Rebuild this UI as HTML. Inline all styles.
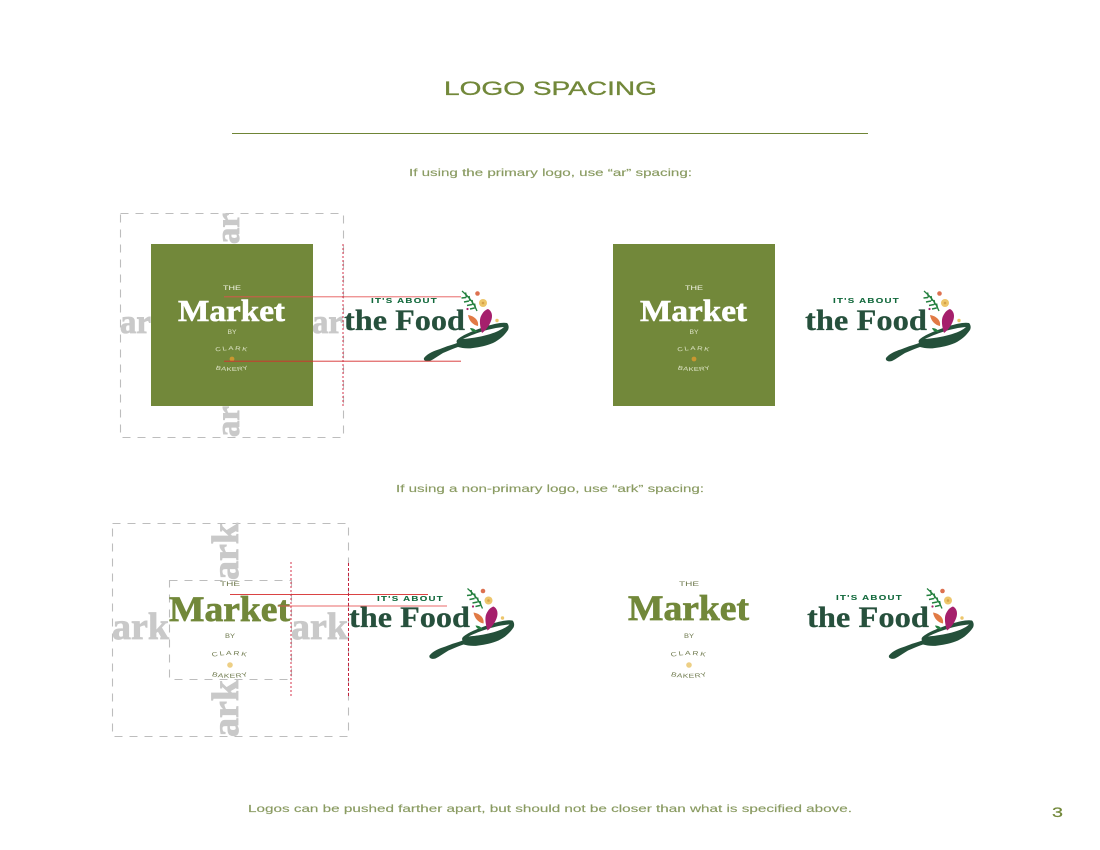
<!DOCTYPE html>
<html><head><meta charset="utf-8"><style>
html,body{margin:0;padding:0;background:#fff;width:1100px;height:850px;overflow:hidden}
svg{display:block}
text{font-family:"Liberation Sans",sans-serif}
.s{font-family:"Liberation Serif",serif;font-weight:700}
.g{fill:#72883a}
.t{fill:#8a9b62;stroke:#8a9b62;stroke-width:.15}
.gh{font-family:"Liberation Serif",serif;font-weight:700;fill:#c9c9c9;stroke:#c9c9c9;stroke-width:.8}
.d{fill:none;stroke:#bdbdbd;stroke-width:1.100;stroke-dasharray:8 7}
.sm{font-size:5.500px;text-anchor:middle}
.sm2{font-size:6px;text-anchor:middle}
.mw{fill:#fff;stroke:#fff;stroke-width:.6}
.mg{fill:#72883a;stroke:#72883a;stroke-width:.7}
.f{fill:#26503c;stroke:#26503c;stroke-width:.25}
.i{font-size:7.500px;font-weight:700;fill:#12693c;stroke:#12693c;stroke-width:.1;letter-spacing:1px}
</style></head><body>
<svg width="1100" height="850" viewBox="0 0 1100 850" xmlns="http://www.w3.org/2000/svg">
<defs>
<path id="a1" d="M-20 354.700Q0 345.300 20 354.700"/>
<path id="a2" d="M-20 366.300Q0 375.700 20 366.300"/>
<path id="a3" d="M-20 659.700Q0 650.300 20 659.700"/>
<path id="a4" d="M-20 673.300Q0 682.700 20 673.300"/>
<g id="pan">
<path d="M424 358C428 353 434 351 440 349C447 346 452 345 457 343C456 341 457 340 458 339C464 334 478 329 487 326C494 324 502 322 507 323C509 325 509 328 508 330C504 336 499 340 493 343C486 346 480 347 473 348C467 349 462 348 458 347C452 349 448 351 443 353C438 356 434 359 430 361C427 362 423 361 424 358Z" fill="#24503a"/>
<path d="M463 339C473 334 490 328 504 327C499 332 485 337 463 339Z" fill="#fff"/>
<path d="M462 291C468 296 474 303 477 311" stroke="#24803f" stroke-width="1.300" fill="none"/>
<path d="M466 297.500l-4.500 .5M469 301l-5 1M472 304.500l-5 1M474.500 308l-4.500 1M465.500 292.500l1 5M469 296l1 5M472 300l1 5M474.500 303.500l1 5" stroke="#24803f" stroke-width="1.500" fill="none"/>
<circle cx="477.500" cy="293.500" r="2.300" fill="#dd7150"/>
<circle cx="483" cy="303" r="4" fill="#edc66b"/>
<circle cx="483" cy="303" r="1.300" fill="#d6a24a"/>
<path d="M488 309C492 311 493 316 491 321C489 326 486 330 482 333C480 327 479 320 481 316C483 312 485 310 488 309Z" fill="#a51f6c"/>
<path d="M468 315C474 316 479 320 478 326C473 325 469 321 468 315Z" fill="#e17a45"/>
<circle cx="467.500" cy="309" r="1.100" fill="#a51f6c"/>
<path d="M470 328C474 328 476 330 477 332C473 332 471 331 470 328Z" fill="#24803f"/>
<circle cx="497" cy="320.500" r="1.700" fill="#edc66b"/>
</g>
</defs>

<text x="444" y="95" font-size="19.500" class="g" stroke="#72883a" stroke-width=".3" textLength="213" lengthAdjust="spacingAndGlyphs">LOGO SPACING</text>
<rect x="232" y="133" width="636" height="1" fill="#6f8536"/>
<text x="409" y="176" font-size="10.500" class="t" textLength="283" lengthAdjust="spacingAndGlyphs">If using the primary logo, use “ar” spacing:</text>
<text x="396" y="492" font-size="10.500" class="t" textLength="308" lengthAdjust="spacingAndGlyphs">If using a non-primary logo, use “ark” spacing:</text>
<text x="248" y="812" font-size="10.500" class="t" textLength="604" lengthAdjust="spacingAndGlyphs">Logos can be pushed farther apart, but should not be closer than what is specified above.</text>
<text x="1052" y="817" font-size="13.500" class="g" stroke="#72883a" stroke-width=".2" textLength="11" lengthAdjust="spacingAndGlyphs">3</text>

<!-- row 1 left -->
<rect x="120.500" y="213.500" width="223" height="224" class="d"/>
<text class="gh" x="120" y="333" font-size="34" textLength="31" lengthAdjust="spacingAndGlyphs">ar</text>
<text class="gh" x="312" y="333" font-size="34" textLength="31" lengthAdjust="spacingAndGlyphs">ar</text>
<text class="gh" transform="translate(239 244) rotate(-90)" font-size="34" textLength="31" lengthAdjust="spacingAndGlyphs">ar</text>
<text class="gh" transform="translate(239 437) rotate(-90)" font-size="34" textLength="31" lengthAdjust="spacingAndGlyphs">ar</text>
<rect x="151" y="244" width="162" height="162" fill="#72883a"/>
<g transform="translate(232 0)" fill="#fff">
<text class="sm2" x="0" y="290" textLength="18" lengthAdjust="spacingAndGlyphs" fill="#f2f4e6">THE</text>
<text class="s mw" x="-54" y="321" font-size="31" textLength="107" lengthAdjust="spacingAndGlyphs">Market</text>
<text class="sm2" x="0" y="334" textLength="9" lengthAdjust="spacingAndGlyphs" fill="#dfe5c8">BY</text>
<g transform="scale(1.400 1)" fill="#dfe5c8">
<text class="sm" style="letter-spacing:1px"><textPath href="#a1" startOffset="50%">CLARK</textPath></text>
<text class="sm" style="letter-spacing:.3px"><textPath href="#a2" startOffset="50%">BAKERY</textPath></text>
</g>
<circle cx="0" cy="359" r="2.400" fill="#c9972f"/>
</g>
<text class="s f" x="344" y="330" font-size="30" textLength="121" lengthAdjust="spacingAndGlyphs">the Food</text>
<text class="i" x="371" y="303" textLength="67" lengthAdjust="spacingAndGlyphs">IT'S ABOUT</text>
<use href="#pan"/>
<rect x="224" y="296.300" width="237" height="1" fill="#e4504f" opacity=".85"/>
<rect x="224" y="360.700" width="237" height="1" fill="#d62f2f" opacity=".9"/>
<path d="M343 244V406" stroke="#d4334b" stroke-width="1" stroke-dasharray="2 2" fill="none"/>

<!-- row 1 right -->
<rect x="613" y="244" width="162" height="162" fill="#72883a"/>
<g transform="translate(694 0)" fill="#fff">
<text class="sm2" x="0" y="290" textLength="18" lengthAdjust="spacingAndGlyphs" fill="#f2f4e6">THE</text>
<text class="s mw" x="-54" y="321" font-size="31" textLength="107" lengthAdjust="spacingAndGlyphs">Market</text>
<text class="sm2" x="0" y="334" textLength="9" lengthAdjust="spacingAndGlyphs" fill="#dfe5c8">BY</text>
<g transform="scale(1.400 1)" fill="#dfe5c8">
<text class="sm" style="letter-spacing:1px"><textPath href="#a1" startOffset="50%">CLARK</textPath></text>
<text class="sm" style="letter-spacing:.3px"><textPath href="#a2" startOffset="50%">BAKERY</textPath></text>
</g>
<circle cx="0" cy="359" r="2.400" fill="#c9972f"/>
</g>
<text class="s f" x="805" y="330" font-size="30" textLength="122" lengthAdjust="spacingAndGlyphs">the Food</text>
<text class="i" x="833" y="303" textLength="67" lengthAdjust="spacingAndGlyphs">IT'S ABOUT</text>
<use href="#pan" transform="translate(462 0)"/>

<!-- row 2 left -->
<rect x="112.500" y="523.500" width="236" height="213" class="d"/>
<rect x="169.500" y="580.500" width="122" height="99" class="d"/>
<text class="gh" x="112" y="639" font-size="38" textLength="57" lengthAdjust="spacingAndGlyphs">ark</text>
<text class="gh" x="291" y="639" font-size="38" textLength="57" lengthAdjust="spacingAndGlyphs">ark</text>
<text class="gh" transform="translate(238 580) rotate(-90)" font-size="38" textLength="57" lengthAdjust="spacingAndGlyphs">ark</text>
<text class="gh" transform="translate(238 737) rotate(-90)" font-size="38" textLength="57" lengthAdjust="spacingAndGlyphs">ark</text>
<g transform="translate(230 0)">
<text class="sm2" x="0" y="586" fill="#6f7a4e" textLength="20" lengthAdjust="spacingAndGlyphs">THE</text>
<text class="s mg" x="-61" y="621" font-size="36" textLength="121" lengthAdjust="spacingAndGlyphs">Market</text>
<text class="sm2" x="0" y="638" fill="#6f7a4e" textLength="10" lengthAdjust="spacingAndGlyphs">BY</text>
<g transform="scale(1.400 1)" fill="#6f7a4e">
<text class="sm2" style="letter-spacing:1.100px"><textPath href="#a3" startOffset="50%">CLARK</textPath></text>
<text class="sm2" style="letter-spacing:.45px"><textPath href="#a4" startOffset="50%">BAKERY</textPath></text>
</g>
<circle cx="0" cy="665" r="2.800" fill="#edcf85"/>
</g>
<text class="s f" x="349" y="627" font-size="30" textLength="121" lengthAdjust="spacingAndGlyphs">the Food</text>
<text class="i" x="377" y="601" textLength="67" lengthAdjust="spacingAndGlyphs">IT'S ABOUT</text>
<use href="#pan" transform="translate(5.500 297.500)"/>
<rect x="230" y="594" width="198" height="1" fill="#d62f2f" opacity=".9"/>
<rect x="278" y="605.500" width="169" height="1" fill="#e4504f" opacity=".85"/>
<path d="M291 562V697" stroke="#d4334b" stroke-width="1" stroke-dasharray="2 2" fill="none"/>
<path d="M348.500 563V697" stroke="#c4203c" stroke-width="1" stroke-dasharray="3 2" fill="none"/>

<!-- row 2 right -->
<g transform="translate(689 0)">
<text class="sm2" x="0" y="586" fill="#6f7a4e" textLength="20" lengthAdjust="spacingAndGlyphs">THE</text>
<text class="s mg" x="-61" y="620" font-size="36" textLength="121" lengthAdjust="spacingAndGlyphs">Market</text>
<text class="sm2" x="0" y="638" fill="#6f7a4e" textLength="10" lengthAdjust="spacingAndGlyphs">BY</text>
<g transform="scale(1.400 1)" fill="#6f7a4e">
<text class="sm2" style="letter-spacing:1.100px"><textPath href="#a3" startOffset="50%">CLARK</textPath></text>
<text class="sm2" style="letter-spacing:.45px"><textPath href="#a4" startOffset="50%">BAKERY</textPath></text>
</g>
<circle cx="0" cy="665" r="2.800" fill="#edcf85"/>
</g>
<text class="s f" x="807" y="627" font-size="30" textLength="122" lengthAdjust="spacingAndGlyphs">the Food</text>
<text class="i" x="836" y="600" textLength="67" lengthAdjust="spacingAndGlyphs">IT'S ABOUT</text>
<use href="#pan" transform="translate(465 297.500)"/>
</svg>
</body></html>
